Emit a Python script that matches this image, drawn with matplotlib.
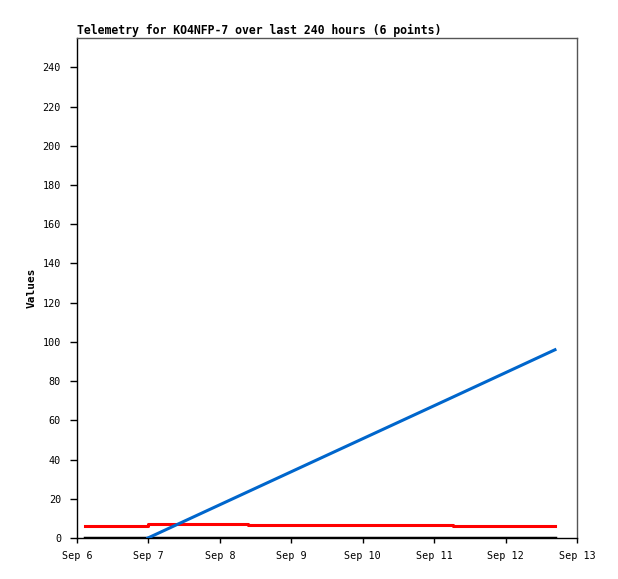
import matplotlib
matplotlib.use("Agg")
import matplotlib.pyplot as plt
from datetime import datetime

# Data
times = ["2024-09-06 02:40", "2024-09-06 23:50", "2024-09-08 09:27",
         "2024-09-09 19:40", "2024-09-11 06:20", "2024-09-12 16:36"]
red_vals = [6.0, 7.0, 6.4, 6.4, 6.0, 6.0]
blue_vals = [None, 0.0, 23.6, 47.6, 71.9, 96.0]
black_vals = [0, 0, 0, 0, 0, 0]
tick_days = ["2024-09-06", "2024-09-07", "2024-09-08", "2024-09-09",
             "2024-09-10", "2024-09-11", "2024-09-12", "2024-09-13"]
tick_labels = ["Sep 6", "Sep 7", "Sep 8", "Sep 9", "Sep 10", "Sep 11", "Sep 12", "Sep 13"]
y_ticks = [0, 20, 40, 60, 80, 100, 120, 140, 160, 180, 200, 220, 240]

t = [datetime.strptime(s, "%Y-%m-%d %H:%M") for s in times]
td = [datetime.strptime(s, "%Y-%m-%d") for s in tick_days]

plt.rcParams['font.family'] = ['DejaVu Sans Mono']

fig = plt.figure(figsize=(6.18, 5.79), dpi=100)
ax = fig.add_axes([77/618, 41/579, 500/618, 500/579])

ax.step(t, black_vals, where='post', color='black', lw=2.5, zorder=3)
ax.step(t, red_vals, where='post', color='#ff0000', lw=2.2, zorder=4)
bt = [x for x, v in zip(t, blue_vals) if v is not None]
bv = [v for v in blue_vals if v is not None]
ax.plot(bt, bv, color='#0066cc', lw=2.2, zorder=5)

ax.set_xlim(td[0], td[-1])
ax.set_ylim(0, 255)
ax.set_xticks(td)
ax.set_xticklabels(tick_labels, fontsize=7.3)
ax.set_yticks(y_ticks)
ax.set_yticklabels([str(v) for v in y_ticks], fontsize=7.3)
ax.tick_params(axis='x', direction='out', length=3.6, width=1, pad=6)
ax.tick_params(axis='y', direction='out', length=5, width=1, pad=6.5)

for side in ['left', 'bottom']:
    ax.spines[side].set_color('black')
    ax.spines[side].set_linewidth(1)
for side in ['top', 'right']:
    ax.spines[side].set_color('#555555')
    ax.spines[side].set_linewidth(1)

ax.set_ylabel("Values", fontsize=8, fontweight='bold')
ax.yaxis.set_label_coords(-(77 - 37) / 500, 0.5)
ax.set_title("Telemetry for KO4NFP-7 over last 240 hours (6 points)",
             loc='left', fontsize=8.3, fontweight='bold', pad=3)

fig.savefig("out.png", dpi=100)
